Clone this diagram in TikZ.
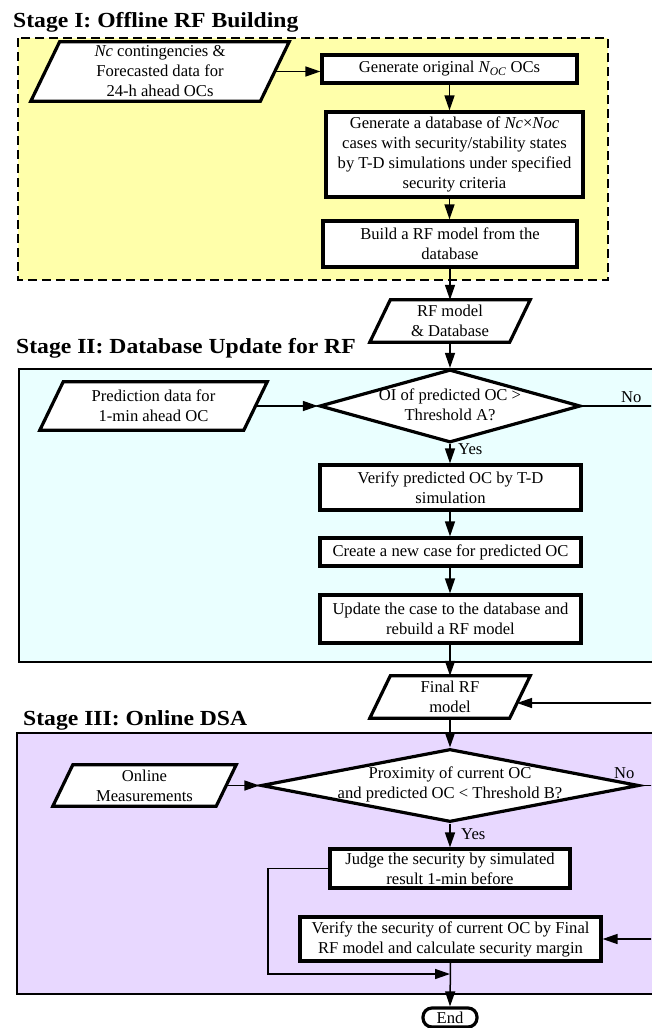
\documentclass[tikz,border=0pt]{standalone}
\usepackage{fontspec}
\setmainfont{Liberation Serif}
\newfontfamily\stagefam{Liberation Serif}[FakeStretch=1.1]
\usetikzlibrary{shapes.geometric,arrows.meta,calc}
\definecolor{stIfill}{RGB}{255,255,170}
\definecolor{stIIfill}{RGB}{234,255,255}
\definecolor{stIIIfill}{RGB}{232,216,255}
\newcommand{\flowfont}{\fontsize{16.6pt}{20pt}\selectfont}
\newcommand{\stagefont}{\stagefam\fontsize{21.5pt}{25pt}\selectfont\bfseries}
\pgfdeclarelayer{back}
\pgfdeclarelayer{mid}
\pgfsetlayers{back,mid,main}
% outline of a parallelogram around a body node: name, slant
\newcommand{\pgramshape}[2]{%
  \begin{pgfonlayer}{mid}
  \draw[line width=3.2pt, fill=white]
    ($(#1.south west)+(-#2*0.5,0)$) -- ($(#1.north west)+(#2*0.5,0)$) --
    ($(#1.north east)+(#2*0.5,0)$) -- ($(#1.south east)+(-#2*0.5,0)$) -- cycle;
  \end{pgfonlayer}}
\begin{document}
\begin{tikzpicture}[x=1pt,y=-1pt,
  procbox/.style={draw, line width=3.2pt, fill=white, inner sep=0pt, align=center, font=\flowfont},
  pgbody/.style={inner sep=0pt, align=center, font=\flowfont},
  decision/.style={diamond, draw, line width=3.2pt, fill=white, inner sep=0pt},
  txt/.style={inner sep=0pt, align=center, font=\flowfont},
  lbl/.style={inner sep=0pt, anchor=base west, font=\flowfont},
  stagetitle/.style={inner sep=0pt, anchor=base west, font=\stagefont},
  flow/.style={line width=1.5pt, -{Triangle[length=15pt,width=10pt]}},
]
\useasboundingbox (0,0) rectangle (651,1028);
\clip (0,0) rectangle (651,1028);

% stage containers
\begin{pgfonlayer}{back}
\draw[fill=stIfill, line width=1.9pt, dash pattern=on 9pt off 5pt] (18,38) rectangle (608,280);
\draw[fill=stIIfill, line width=1.7pt] (19,369) rectangle (670,662);
\draw[fill=stIIIfill, line width=1.7pt] (17,733) rectangle (670,994);
\end{pgfonlayer}

% titles
\node[stagetitle] (t1) at (13,27) {Stage I: Offline RF Building};
\node[stagetitle] (t2) at (16,353) {Stage II: Database Update for RF};
\node[stagetitle] (t3) at (23,725) {Stage III: Online DSA};

% Stage I
\node[pgbody, minimum width=229.2, minimum height=59] (p1) at (160,71.5) {\textit{Nc} contingencies \&\\Forecasted data for\\24-h ahead OCs};
\pgramshape{p1}{28.8}
\node[procbox, minimum width=255, minimum height=28] (A) at (449.5,69) {Generate original \textit{N\textsubscript{OC}} OCs};
\node[procbox, minimum width=257, minimum height=85] (B) at (454.5,154.5) {Generate a database of \textit{Nc}×\textit{Noc}\\cases with security/stability states\\by T-D simulations under specified\\security criteria};
\node[procbox, minimum width=254, minimum height=46] (C) at (450,244) {Build a RF model from the\\database};
\node[pgbody, minimum width=139.5, minimum height=42] (p2) at (450,321) {RF model\\\& Database};
\pgramshape{p2}{20.5}

% Stage II
\node[decision, minimum width=261, minimum height=73] (d1) at (450,406) {};
\node[txt] (d1t) at (450,405) {OI of predicted OC >\\Threshold A?};
\node[pgbody, minimum width=203.6, minimum height=48] (p3) at (153.5,406) {Prediction data for\\1-min ahead OC};
\pgramshape{p3}{23.4}
\node[procbox, minimum width=261, minimum height=45] (D) at (450.5,487.5) {Verify predicted OC by T-D\\simulation};
\node[procbox, minimum width=261, minimum height=28] (E) at (450.5,552) {Create a new case for predicted OC};
\node[procbox, minimum width=261, minimum height=48] (F) at (450.5,619) {Update the case to the database and\\rebuild a RF model};
\node[lbl] (no1) at (621,402) {No};
\node[lbl] (yes1) at (458,454) {Yes};

% Stage III
\node[pgbody, minimum width=139.5, minimum height=42] (p4) at (450,697) {Final RF\\model};
\pgramshape{p4}{20.5}
\node[decision, minimum width=378, minimum height=73] (d2) at (450,785.5) {};
\node[txt] (d2t) at (450,784) {Proximity of current OC\\and predicted OC < Threshold B?};
\node[pgbody, minimum width=163, minimum height=41] (p5) at (144.5,785.5) {Online\\Measurements};
\pgramshape{p5}{20}
\node[procbox, minimum width=240, minimum height=39] (G) at (450,868.5) {Judge the security by simulated\\result 1-min before};
\node[procbox, minimum width=301, minimum height=44] (H) at (450.5,939) {Verify the security of current OC by Final\\RF model and calculate security margin};
\node[procbox, rounded corners=9pt, minimum width=54, minimum height=19] (end) at (450,1017.5) {End};
\node[lbl] (no2) at (614,778) {No};
\node[lbl] (yes2) at (461,839) {Yes};
\coordinate (jn) at (450,974);

% connectors
\draw[flow] (p1.east) -- (A.west |- p1.east);
\draw[flow] (A.south) -- (A.south |- B.north);
\draw[flow] (A.south |- B.south) -- (A.south |- C.north);
\draw[flow] (C.south) -- (p2.north);
\draw[flow] (p2.south) -- (d1.north);
\draw[flow] (p3.east) -- (d1.west);
\draw[flow] (d1.south) -- (d1.south |- D.north);
\draw[flow] (d1.south |- D.south) -- (d1.south |- E.north);
\draw[flow] (d1.south |- E.south) -- (d1.south |- F.north);
\draw[flow] (d1.south |- F.south) -- (p4.north);
\draw[flow] (d1.east) -- (700,406) |- ($(p4.east)+(-2.9,6)$);
\draw[flow] (p4.south) -- (d2.north);
\draw[flow] (p5.east) -- (d2.west);
\draw[flow] (d2.south) -- (G.north);
\draw[flow] (d2.east) -- (700,785.5) |- (H.east);
\draw[flow] (G.west) -- (268,868.5) |- (jn);
\draw[flow] (H.south) -- (end.north);
\end{tikzpicture}
\end{document}
